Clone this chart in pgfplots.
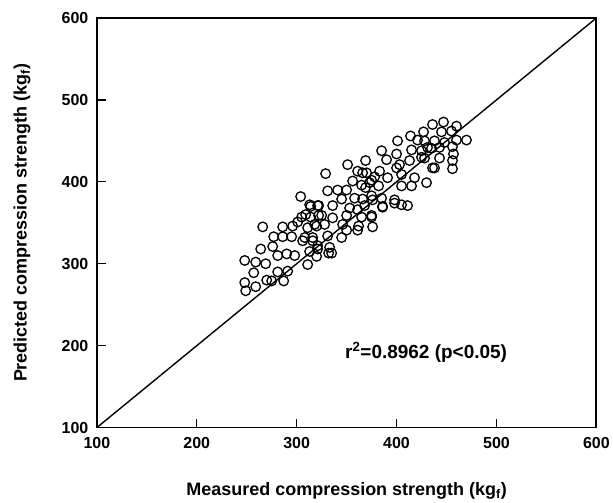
\documentclass[border=0pt]{standalone}
\usepackage{fontspec}
\setmainfont{Liberation Sans}
\usepackage{pgfplots}
\pgfplotsset{compat=1.18}
\begin{document}
\begin{tikzpicture}
\begin{axis}[
  scale only axis,
  width=500pt, height=410pt,
  xmin=100, xmax=600, ymin=100, ymax=600,
  xtick={100,200,...,600}, ytick={100,200,...,600},
  tick align=inside,
  xtick pos=bottom, ytick pos=left,
  major tick length=9pt,
  every tick/.style={black, line width=1.3pt},
  axis line style={line width=1.7pt},
  /pgf/number format/assume math mode=true,
  ticklabel style={font=\fontsize{16}{18}\selectfont\bfseries},
  xticklabel style={yshift=-6pt},
  yticklabel style={xshift=-5pt},
  xlabel={Measured compression strength (kg\textsubscript{f})},
  ylabel={Predicted compression strength (kg\textsubscript{f})},
  label style={font=\fontsize{18}{20}\selectfont\bfseries},
  xlabel style={at={(rel axis cs:0.5,-0.155)}, anchor=center},
  ylabel style={at={(rel axis cs:-0.15,0.5)}, anchor=center, rotate=0},
  clip=false,
]
\path (rel axis cs:-0.194,-0.178) rectangle (rel axis cs:1.032,1.044);
\addplot[black, line width=1.4pt] coordinates {(100,100) (600,600)};
\addplot[only marks, mark=o, mark size=4.8pt, mark options={line width=1.3pt, draw=black, fill=white}] coordinates {
(304,382) (314,370) (322,371) (305,357) (314,357) (322,359) (266,345) (286,345)
(296,346) (301,351) (311,344) (320,346) (277,333) (286,333) (295,333) (306,328)
(316,328) (264,318) (276,321) (290,312) (298,310) (281,310) (313,315) (321,318)
(248,304) (259,302) (269,300) (311,299) (257,289) (281,290) (291,291) (248,277)
(270,280) (275,279) (287,279) (249,267) (259,272) (320,309) (332,313) (335,313)
(369,426) (351,421) (329,410) (361,413) (370,411) (378,406) (356,401) (365,396)
(373,399) (331,389) (341,390) (350,390) (345,379) (358,380) (366,379) (376,378)
(313,372) (321,371) (336,371) (353,368) (361,366) (309,360) (325,359) (336,356)
(350,359) (365,357) (375,357) (318,348) (328,348) (346,348) (376,345) (350,341)
(361,341) (308,332) (316,332) (331,334) (345,332) (321,322) (333,320)
(436,470) (427,461) (414,456) (421,451) (401,450) (385,438) (400,434) (415,439)
(425,438) (435,441) (390,427) (403,421) (413,426) (425,430) (366,411) (383,413)
(400,417) (438,417) (375,402) (391,405) (405,409) (418,405) (430,399) (369,393)
(382,395) (405,395) (415,395) (375,383) (385,380) (398,378) (405,372) (368,371)
(386,370) (375,359) (447,473) (460,468) (445,461) (455,462) (470,451) (460,451)
(428,450) (438,450) (448,448) (431,442) (443,442) (456,443) (428,429) (443,429)
(456,426) (436,417) (457,434) (456,416) (411,371) (398,374) (386,369) (362,346)
};
\node[anchor=west, font=\fontsize{19}{21}\selectfont\bfseries] at (axis cs:345,192) {r\textsuperscript{2}=0.8962 (p<0.05)};
\end{axis}
\end{tikzpicture}
\end{document}
